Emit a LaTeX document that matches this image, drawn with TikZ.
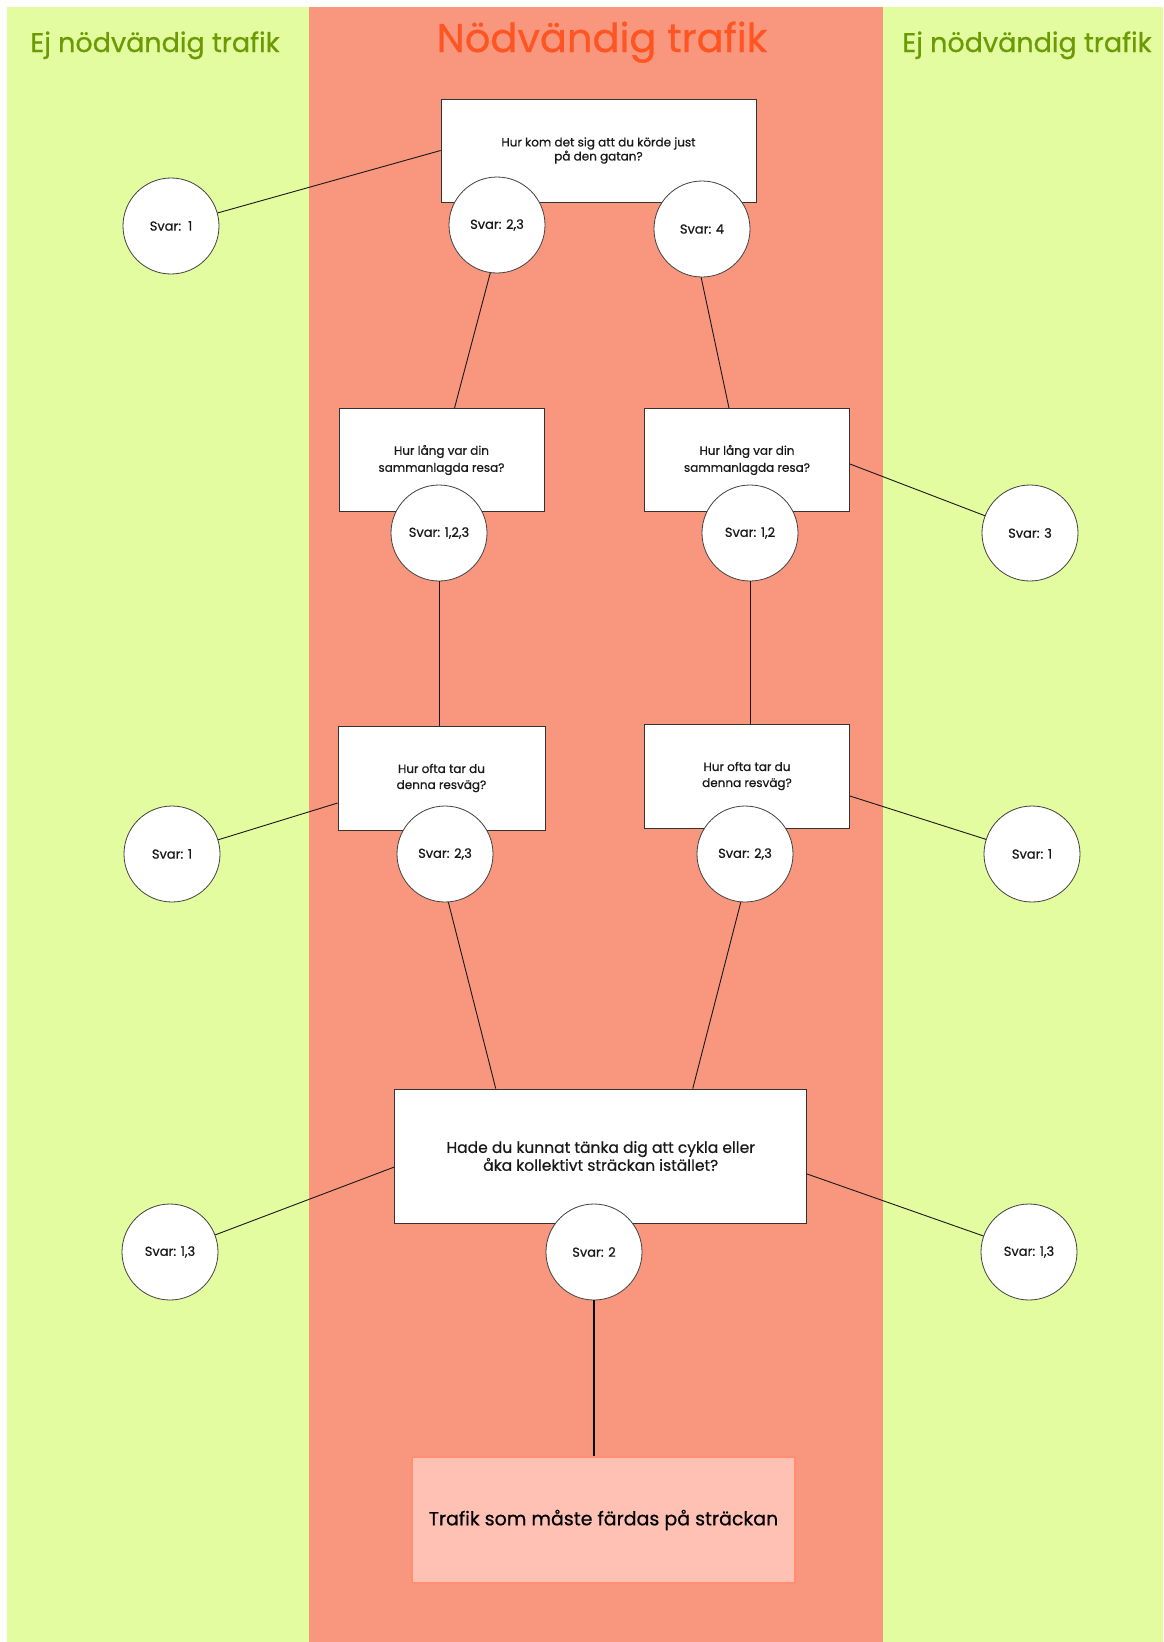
\documentclass[tikz,border=0pt]{standalone}
\usepackage{fontspec}
\setmainfont{Poppins}[FakeBold=0.6]
\definecolor{groen}{HTML}{E2FC9F}
\definecolor{roed}{HTML}{F8977E}
\definecolor{rubrikroed}{HTML}{FF5522}
\definecolor{rubrikgroen}{HTML}{6B9A05}
\definecolor{maalfyll}{HTML}{FFC1B3}
\definecolor{maalkant}{HTML}{FF8F70}

\begin{document}
\begin{tikzpicture}[x=1pt,y=-1pt,
    fraga/.style={draw=black!80, fill=white, line width=0.8pt, inner sep=0pt, align=center, text=black!90},
    svar/.style={circle, draw=black!75, fill=white, line width=0.8pt, minimum size=96pt, inner sep=0pt, text=black!90, font=\fontsize{13}{15}\selectfont},
    linje/.style={line width=0.9pt, black!90}]
        % Page and background bands
        \useasboundingbox[fill=white] (0,0) rectangle (1163,1642);
        \fill[groen] (7,7) rectangle (1163,1642);
        \fill[roed] (309,7) rectangle (883,1642);
        
        % Band titles
        \node[anchor=base, text=rubrikgroen, font=\fontsize{27}{30}\selectfont] (rubrikv) at (155,52) {Ej nödvändig trafik};
        \node[anchor=base, text=rubrikroed, font=\fontsize{40}{44}\selectfont] (rubrikm) at (602,52) {Nödvändig trafik};
        \node[anchor=base, text=rubrikgroen, font=\fontsize{27}{30}\selectfont] (rubrikh) at (1027,52) {Ej nödvändig trafik};
        
        % Question boxes
        \node[fraga, minimum width=315pt, minimum height=103pt, font=\fontsize{12}{12}\selectfont] (q1) at (598.5,150.5) {Hur kom det sig att du körde just\\på den gatan?};
        \node[fraga, minimum width=205pt, minimum height=103pt, font=\fontsize{12}{17}\selectfont] (q2a) at (441.5,460) {Hur lång var din\\sammanlagda resa?};
        \node[fraga, minimum width=205pt, minimum height=103pt, font=\fontsize{12}{17}\selectfont] (q2b) at (747,460) {Hur lång var din\\sammanlagda resa?};
        \node[fraga, minimum width=207pt, minimum height=104pt, font=\fontsize{12}{16}\selectfont] (q3a) at (441.5,778) {Hur ofta tar du\\denna resväg?};
        \node[fraga, minimum width=205pt, minimum height=104pt, font=\fontsize{12}{16}\selectfont] (q3b) at (747,776) {Hur ofta tar du\\denna resväg?};
        \node[fraga, minimum width=412pt, minimum height=134pt, font=\fontsize{15.5}{14}\selectfont] (q4) at (600.75,1156) {Hade du kunnat tänka dig att cykla eller\\åka kollektivt sträckan istället?};
        
        % Final box
        \node[draw=maalkant, fill=maalfyll, line width=1.2pt, minimum width=383pt, minimum height=126pt, font=\fontsize{19}{22}\selectfont] (fin) at (603.5,1520) {Trafik som måste färdas på sträckan};
        
        % Answer circles
        \node[svar] (s1) at (171,226) {Svar:\ \ 1};
        \node[svar] (s23a) at (497,225) {Svar: 2,3};
        \node[svar] (s4) at (702,229) {Svar: 4};
        \node[svar] (s123) at (439,533) {Svar: 1,2,3};
        \node[svar] (s12) at (750,533) {Svar: 1,2};
        \node[svar] (s3) at (1030,533) {Svar: 3};
        \node[svar] (s1b) at (172,854) {Svar: 1};
        \node[svar] (s23b) at (445,854) {Svar: 2,3};
        \node[svar] (s23c) at (745,854) {Svar: 2,3};
        \node[svar] (s1c) at (1032,854) {Svar: 1};
        \node[svar] (s13a) at (170,1252) {Svar: 1,3};
        \node[svar] (s2) at (594,1252) {Svar: 2};
        \node[svar] (s13b) at (1029,1252) {Svar: 1,3};
        
        % Connectors
        \draw[linje] (s1) -- (q1.west);
        \draw[linje] (s23a.-98) -- ([xshift=13pt]q2a.north);
        \draw[linje] (s4.-91) -- ([xshift=-18pt]q2b.north);
        \draw[linje] ([yshift=-4pt]q2b.east) -- (s3);
        \draw[linje] (s123) -- (s123 |- q3a.north);
        \draw[linje] (s12) -- (s12 |- q3b.north);
        \draw[linje] ([yshift=-25pt]q3a.west) -- (s1b);
        \draw[linje] ([yshift=-20pt]q3b.east) -- (s1c);
        \draw[linje] (s23b.-86) -- ([xshift=-105pt]q4.north);
        \draw[linje] (s23c.-95) -- ([xshift=92pt]q4.north);
        \draw[linje] ([yshift=-11pt]q4.west) -- (s13a);
        \draw[linje] ([yshift=-18pt]q4.east) -- (s13b);
        \draw[line width=2pt] (s2) -- (s2 |- fin.north);
        
    \end{tikzpicture}
\end{document}
